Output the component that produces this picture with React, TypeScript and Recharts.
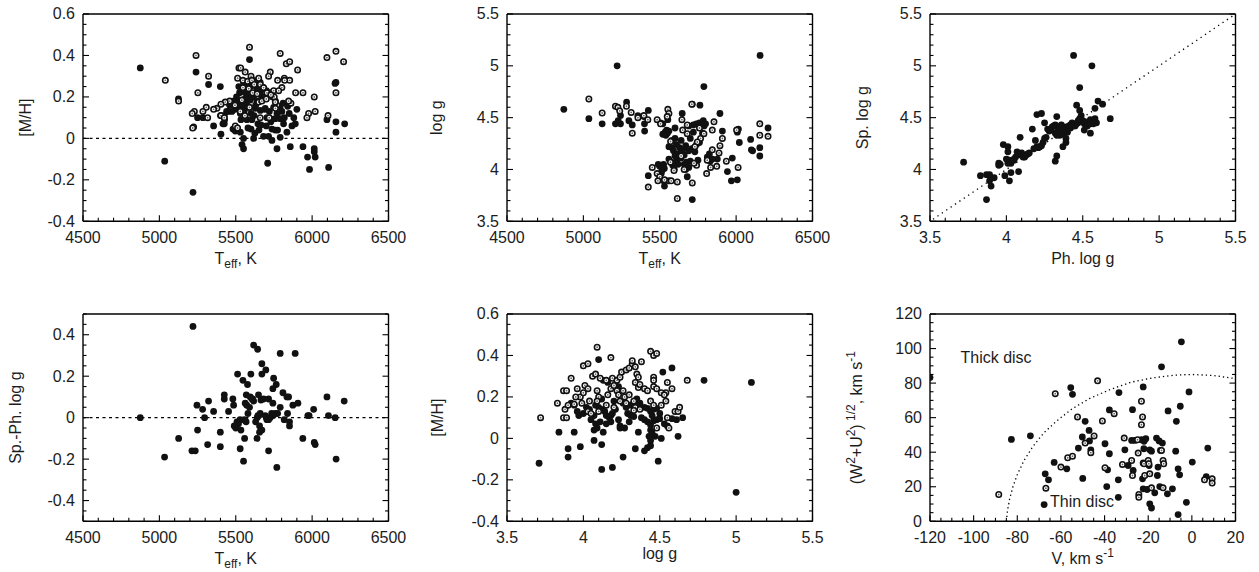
import React from 'react';
import { ScatterChart, Scatter, XAxis, YAxis, ReferenceLine, ReferenceDot } from 'recharts';

type P = [number, number];

// ---------- Panel 1: [M/H] vs Teff ----------
const teffMhFilled: P[] = [
  [4875,0.34],[5035,-0.11],[5125,0.19],[5220,-0.26],[5240,0.32],[5322,0.26],[5399,0.25],[5403,0.02],[5355,0.06],[5425,0.07],[5425,0.11],[5250,0.10],[5285,0.10],[5590,0.38],
  [5551,0.26],[5578,0.26],[5639,0.24],[5661,0.23],[5700,0.23],[5525,0.22],[5562,0.22],[5591,0.21],[5661,0.21],[5682,0.20],[5617,0.20],[5639,0.18],
  [5530,0.18],[5569,0.18],[5595,0.185],[5573,0.16],[5510,0.17],[5545,0.16],[5520,0.15],[5585,0.15],
  [5416,0.07],[5427,0.09],[5453,0.13],[5475,0.13],[5497,0.14],
  [5482,0.045],[5497,0.035],[5530,0.03],[5551,0.0],[5541,-0.03],[5551,-0.05],[5600,0.045],[5652,0.04],[5534,0.09],[5573,0.09],[5606,0.09],
  [5617,0.0],[5682,0.01],[5715,0.01],[5737,-0.01],[5770,-0.05],[5709,-0.12],[5791,0.005],[5835,0.03],[5857,-0.04],[5940,-0.04],[6014,-0.05],[6014,-0.065],[5970,-0.09],[6020,-0.09],[5983,-0.15],[6108,-0.14],
  [5661,0.135],[5693,0.145],[5628,0.145],[5704,0.10],[5726,0.095],[5759,0.095],[5791,0.095],[5737,0.045],[5759,0.04],[5774,0.04],[5813,0.07],[5868,0.06],[5890,0.07],[5900,0.14],[5840,0.155],[5802,0.13],[5818,0.10],
  [5530,0.12],[5556,0.135],[5600,0.12],[5620,0.11],[5645,0.07],[5665,0.065],[5690,0.14],[5720,0.13],[5748,0.15],[5770,0.12],
  [6156,0.27],[6150,0.265],[6097,0.09],[6156,0.08],[6213,0.07],[6156,0.03],
  [5600,0.25],[5640,0.26],[5615,0.28],[5660,0.27],[5680,0.245],[5720,0.22],[5740,0.2],[5760,0.18],[5790,0.15],[5810,0.17],
  [5520,0.25],[5505,0.2],[5480,0.18],[5460,0.16],[5440,0.13],[5400,0.11],[5580,0.05],[5625,0.025],[5700,0.06],[5730,0.08],[5850,0.12],[5880,0.1],[5630,0.16],[5650,0.18],[5600,0.2],[5560,0.19],
];
const teffMhOpen: P[] = [
  [5590,0.44],[5240,0.40],[5791,0.41],[6097,0.39],[6156,0.42],[6206,0.37],[5322,0.30],[5039,0.28],[5126,0.18],[5252,0.22],[5521,0.34],[5532,0.34],[5562,0.32],[5600,0.30],[5650,0.29],[5726,0.32],[5715,0.30],[5831,0.36],[5853,0.37],[5774,0.28],[5818,0.29],[5853,0.28],[5905,0.33],[5892,0.22],[5940,0.22],[6014,0.20],[6156,0.22],[5977,0.12],[6020,0.13],[5966,0.10],[6104,0.11],
  [5512,0.29],[5547,0.28],[5578,0.275],[5606,0.28],[5621,0.26],[5661,0.26],[5682,0.245],[5704,0.22],[5748,0.23],[5752,0.20],[5802,0.245],[5781,0.23],[5547,0.245],
  [5460,0.18],[5431,0.175],[5403,0.165],[5377,0.145],[5355,0.14],[5307,0.15],[5285,0.13],[5229,0.13],[5215,0.12],[5224,0.055],[5218,0.05],[5316,0.10],[5403,0.11],[5425,0.10],[5497,0.06],[5512,0.05],
  [5861,0.17],[5846,0.18],[5770,0.16],[5759,0.175],[5719,0.10],[5650,0.175],[5671,0.18],[5700,0.19],[5590,0.15],[5560,0.11],[5610,0.22],[5640,0.215],[5585,0.24],[5495,0.16],[5530,0.13],[5760,0.145],[5820,0.28],[5660,0.1],[5730,0.21],[5540,0.185],
];

// ---------- Panel 2: log g vs Teff ----------
const teffLoggFilled: P[] = [
  [4872,4.58],[5036,4.49],[5123,4.44],[5221,5.00],[5210,4.44],[5243,4.44],[5228,4.47],[5243,4.52],[5283,4.65],[5298,4.47],[5320,4.43],[5357,4.52],[5396,4.51],[5401,4.37],[5400,4.44],[5425,4.57],[5425,3.94],[5789,4.80],[6157,5.10],
  [5505,4.45],[5520,4.44],[5553,4.48],[5550,4.35],[5535,4.36],[5520,4.34],[5540,4.33],[5560,4.37],[5545,4.38],[5647,4.54],[5713,4.63],[5763,4.62],
  [5690,4.42],[5720,4.43],[5740,4.44],[5760,4.45],[5785,4.47],[5800,4.44],[5790,4.42],[5894,4.54],[5910,4.37],[5877,4.10],
  [5610,4.24],[5630,4.21],[5650,4.19],[5670,4.23],[5690,4.18],[5710,4.20],[5730,4.17],[5740,4.24],[5620,4.15],[5660,4.14],[5600,4.30],[5580,4.21],[5590,4.18],
  [5811,4.12],[5825,4.15],[5845,4.10],[5830,4.08],
  [5660,4.05],[5670,4.00],[5680,3.93],[5675,4.07],[5690,4.02],
  [5560,4.10],[5575,4.07],[5585,4.04],[5600,4.13],[5610,4.08],[5595,4.00],
  [5500,4.03],[5515,3.99],[5525,4.05],[5490,4.05],[5510,3.96],[5530,4.01],
  [5531,3.84],[5713,3.71],[5975,4.11],[5943,3.98],[5969,3.89],[6008,3.90],[6015,4.39],[6008,4.36],[6021,4.26],[6095,4.29],[6100,4.19],[6108,4.18],[6155,4.21],[6155,4.13],[6209,4.40],
  [5600,4.40],[5640,4.28],[5700,4.30],[5720,4.36],[5560,4.22],[5620,4.05],[5640,4.11],[5700,4.08],[5750,4.09],[5780,4.35],[5760,4.26],[5580,4.28],
];
const teffLoggOpen: P[] = [
  [5036,4.68],[5123,4.545],[5210,4.61],[5226,4.60],[5238,4.565],[5282,4.61],[5313,4.55],[5320,4.35],[5357,4.50],[5396,4.52],[5422,4.48],[5425,3.83],[5483,4.48],[5505,4.44],[5553,4.58],[5560,4.54],[5549,4.51],[5571,4.27],[5680,4.345],[5710,4.63],[5855,4.46],[5844,4.38],[5910,4.30],[5894,4.23],[5844,4.19],[5789,4.345],[5767,4.30],[5746,4.265],[5888,4.16],[5811,4.09],[5741,4.04],[5724,4.06],[5833,4.02],[5873,4.03],[5807,3.96],[5570,4.07],[5593,3.99],[5560,3.89],[5615,3.88],[5451,4.02],[5483,3.96],[5500,3.93],[5527,3.89],[5488,3.89],[5531,3.90],[5575,3.89],[5615,3.72],[5713,3.87],[5936,4.08],[6013,4.02],[6003,4.38],[6155,4.44],[6155,4.33],[6209,4.32],[5645,4.48],[5650,4.38],[5760,4.4],[5730,4.22],[5660,4.0],[5640,4.13],[5680,4.43],
];

// ---------- Panel 3: Sp. log g vs Ph. log g ----------
const phSpLogg: P[] = [
  [3.72,4.07],[3.83,3.94],[3.87,3.71],[3.87,3.95],[3.89,3.95],[3.89,3.89],[3.90,3.84],[3.92,3.92],[3.95,4.06],[3.95,4.04],[3.98,4.24],[3.99,3.94],[4.01,4.22],[4.01,4.17],[4.02,4.09],[4.03,4.06],[4.01,4.06],[4.05,4.09],[4.02,3.89],[4.03,3.97],[4.08,3.98],[4.09,4.31],[4.07,4.17],[4.09,4.14],[4.10,4.16],[4.11,4.12],[4.13,4.14],[4.14,4.15],[4.15,4.16],[4.17,4.39],[4.18,4.20],[4.20,4.22],[4.22,4.22],[4.23,4.23],[4.20,4.53],[4.23,4.54],[4.19,4.28],[4.24,4.26],[4.25,4.30],[4.25,4.45],[4.26,4.31],[4.27,4.39],[4.30,4.41],[4.31,4.42],[4.32,4.43],[4.32,4.08],[4.33,4.13],[4.33,4.51],[4.34,4.37],[4.35,4.36],[4.34,4.40],[4.36,4.34],[4.35,4.33],[4.36,4.39],[4.37,4.22],[4.38,4.35],[4.39,4.41],[4.39,4.30],[4.39,4.26],[4.42,4.43],[4.43,4.45],[4.45,4.44],[4.46,4.44],[4.47,4.45],[4.44,5.10],[4.46,4.62],[4.48,4.57],[4.49,4.52],[4.48,4.79],[4.48,4.49],[4.50,4.47],[4.47,4.47],[4.51,4.44],[4.52,4.46],[4.51,4.38],[4.56,5.00],[4.55,4.48],[4.55,4.44],[4.55,4.35],[4.58,4.59],[4.58,4.49],[4.59,4.45],[4.60,4.66],[4.63,4.63],[4.68,4.49],[4.42,4.40],[4.44,4.42],[4.32,4.35],[4.28,4.37],[4.12,4.12],[4.06,4.12],[4.00,4.10],[3.96,4.05],[4.05,4.10],[4.21,4.21],[4.29,4.38],[4.36,4.43],[4.40,4.36],[4.45,4.42],[4.53,4.42],[4.57,4.44],[4.33,4.33],[4.35,4.41],[4.41,4.42],
];

// ---------- Panel 4: Sp.-Ph. log g vs Teff ----------
const teffDiffLogg: P[] = [
  [4875,0.0],[5034,-0.19],[5126,-0.10],[5220,0.44],[5213,-0.16],[5235,-0.16],[5246,0.06],[5250,-0.06],[5283,0.04],[5296,0.0],[5316,-0.13],[5322,0.08],[5355,0.03],[5399,-0.07],[5399,-0.14],[5425,0.11],[5425,0.09],[5453,0.03],[5481,0.09],[5486,0.06],[5490,-0.04],[5500,-0.05],[5508,-0.02],[5518,-0.03],[5528,-0.01],[5512,0.21],[5529,-0.15],[5534,-0.06],[5547,0.18],[5551,-0.21],[5556,-0.01],[5562,-0.015],[5558,-0.10],[5562,0.07],[5569,0.11],[5577,0.16],[5572,0.06],[5580,0.02],[5568,-0.02],[5595,0.10],[5606,0.09],[5617,0.08],[5599,0.21],[5617,0.35],[5639,-0.10],[5640,0.0],[5645,0.01],[5650,0.01],[5660,0.02],[5643,0.33],[5649,0.11],[5656,-0.04],[5656,-0.07],[5665,0.085],[5671,0.21],[5671,0.26],[5671,-0.06],[5682,0.09],[5693,0.01],[5704,-0.01],[5715,-0.01],[5697,0.23],[5715,0.09],[5715,-0.16],[5725,0.0],[5735,0.02],[5745,0.01],[5743,0.07],[5743,0.14],[5748,0.19],[5758,0.02],[5774,0.02],[5765,0.16],[5769,-0.24],[5791,0.05],[5791,0.31],[5809,0.12],[5817,-0.01],[5835,0.10],[5846,0.10],[5839,0.02],[5852,-0.02],[5852,-0.04],[5874,0.06],[5889,0.31],[5907,0.07],[5939,-0.10],[5972,0.01],[5980,0.01],[6010,0.04],[6014,-0.12],[6020,-0.13],[6097,0.10],[6107,0.01],[6151,0.0],[6157,-0.20],[6210,0.08],[5630,-0.02],[5612,0.09],[5590,0.05],[5700,0.0],
];

// ---------- Panel 5: [M/H] vs log g ----------
const loggMhFilled: P[] = [
  [4.10,0.38],[4.52,0.32],[4.58,0.34],[4.79,0.28],[5.10,0.27],[5.00,-0.26],[3.84,0.03],[3.94,0.03],[3.90,-0.05],[3.90,-0.09],[3.98,-0.04],[3.71,-0.12],[4.07,-0.01],[4.12,-0.03],[4.12,-0.15],[4.19,-0.14],[4.26,-0.09],[4.34,-0.05],[4.40,-0.06],[4.42,-0.045],[4.44,-0.035],[4.49,-0.11],[4.47,0.01],[4.51,0.0],[4.62,0.01],[4.65,0.10],[4.36,0.03],[4.44,0.04],[4.45,0.025],[4.43,0.01],[4.44,-0.01],[4.13,0.03],[4.07,0.04],[4.09,0.05],[4.08,0.07],[4.11,0.08],[3.92,0.17],[3.94,0.16],[3.96,0.13],[3.97,0.11],[4.02,0.15],[4.04,0.14],[4.07,0.11],[4.10,0.15],[4.12,0.14],[4.14,0.13],[4.15,0.11],[4.17,0.10],[4.18,0.11],[4.19,0.12],[4.21,0.14],[4.23,0.09],[4.24,0.06],[4.24,0.05],[4.27,0.05],[4.29,0.12],[4.31,0.11],[4.33,0.105],[4.13,0.28],[4.16,0.27],[4.21,0.26],[4.23,0.25],[4.33,0.17],[4.35,0.17],[4.37,0.17],[4.35,0.19],[4.40,0.15],[4.42,0.145],[4.44,0.13],[4.46,0.14],[4.48,0.145],[4.50,0.12],[4.40,0.09],[4.42,0.08],[4.44,0.065],[4.46,0.085],[4.48,0.09],[4.50,0.095],[4.53,0.07],[4.55,0.06],[4.58,0.095],[4.61,0.09],[4.31,0.16],[4.28,0.15],[4.26,0.17],[4.20,0.18],[4.18,0.08],[4.15,0.07],[4.05,0.09],[4.00,0.12],[4.38,0.10],[4.30,0.08],[4.45,0.11],[4.12,0.19],[4.08,0.16],
];
const loggMhOpen: P[] = [
  [4.09,0.44],[4.18,0.39],[4.44,0.42],[4.46,0.40],[4.48,0.41],[4.00,0.35],[4.03,0.36],[3.92,0.29],[4.06,0.30],[4.08,0.31],[4.11,0.29],[4.15,0.28],[4.19,0.29],[4.22,0.28],[4.24,0.295],[4.25,0.32],[4.28,0.33],[4.30,0.34],[4.32,0.36],[4.34,0.345],[4.38,0.37],[4.32,0.375],[4.35,0.31],[4.36,0.295],[4.34,0.27],[4.36,0.245],[4.46,0.295],[4.46,0.28],[4.55,0.27],[4.58,0.24],[4.54,0.22],[4.68,0.28],[3.87,0.23],[3.89,0.23],[3.83,0.17],[3.72,0.10],[3.87,0.10],[3.89,0.10],[3.88,0.14],[3.90,0.16],[3.94,0.165],[3.96,0.24],[3.98,0.20],[4.01,0.255],[4.03,0.24],[4.00,0.22],[4.04,0.18],[4.03,0.13],[4.05,0.12],[4.09,0.23],[4.10,0.20],[4.09,0.18],[4.16,0.21],[4.18,0.24],[4.20,0.255],[4.22,0.23],[4.23,0.21],[4.24,0.18],[4.26,0.23],[4.27,0.20],[4.28,0.17],[4.33,0.18],[4.37,0.26],[4.40,0.24],[4.42,0.23],[4.46,0.25],[4.48,0.24],[4.51,0.22],[4.53,0.21],[4.51,0.16],[4.54,0.18],[4.60,0.13],[4.62,0.13],[4.63,0.15],[4.55,0.10],[4.56,0.05],[4.48,0.05],[4.34,0.15],[4.37,0.14],[4.33,0.135],[4.44,0.18],[4.46,0.16],[4.10,0.13],[4.15,0.16],[4.20,0.15],[4.30,0.21],[3.95,0.20],[3.99,0.17],
];

// ---------- Panel 6: Toomre diagram ----------
const toomreFilled: P[] = [
  [-120,83.2],[-82.7,47.4],[-74.0,49.5],[-67.7,9.7],[-67.2,27.5],[-65.7,24.0],[-63.1,34.1],[-57.3,30.4],[-55.5,77.4],[-54.7,73.5],[-52.0,42.4],[-50.0,24.8],[-50.2,48.8],[-48.9,57.9],[-47.1,52.6],[-46.9,46.5],[-46.3,41.4],[-39.8,44.9],[-38.6,29.8],[-39.0,20.1],[-37.8,64.5],[-37.8,39.1],[-33.7,24.0],[-33.7,13.9],[-33.4,74.5],[-30.7,41.4],[-29.2,32.3],[-27.6,46.8],[-27.2,64.6],[-26.9,29.4],[-26.1,46.8],[-23.1,47.2],[-22.6,24.6],[-22.3,18.8],[-22.3,77.8],[-22.0,42.0],[-21.9,46.3],[-21.1,47.8],[-20.5,18.4],[-19.6,32.3],[-19.3,41.4],[-19.3,10.1],[-18.5,7.7],[-18.5,40.6],[-17.0,16.5],[-16.2,48.2],[-15.8,26.5],[-15.5,31.4],[-15.0,46.5],[-14.7,20.1],[-14.4,41.0],[-13.9,89.4],[-13.5,45.3],[-11.2,15.9],[-10.9,63.9],[-8.9,18.8],[-7.4,40.6],[-7.1,57.9],[-6.3,3.9],[-6.3,30.4],[-5.6,26.9],[-5.3,66.6],[-4.8,103.9],[-2.5,11.0],[-1.3,74.9],[0.2,34.3],[6.6,25.9],[7.3,42.4],
];
const toomreOpen: P[] = [
  [-88.5,15.5],[-66.9,19.2],[-62.6,73.9],[-60.0,31.4],[-56.9,36.8],[-54.7,37.7],[-52.4,60.4],[-48.9,45.3],[-46.3,39.7],[-44.8,49.4],[-43.2,81.3],[-41.0,58.1],[-39.8,31.0],[-35.6,62.3],[-31.8,32.9],[-31.0,48.2],[-27.6,35.2],[-27.2,26.5],[-24.9,47.2],[-24.6,39.5],[-24.3,15.5],[-24.3,13.9],[-23.1,69.5],[-23.1,55.9],[-22.6,60.4],[-22.3,33.7],[-21.9,33.3],[-21.6,26.5],[-20.0,35.2],[-19.7,33.3],[-19.3,27.5],[-18.5,19.4],[-13.9,41.0],[-13.2,35.2],[-12.9,33.3],[-13.2,19.4],[5.8,24.0],[9.3,24.6],[9.3,22.1],
];
// dotted thin/thick disc boundary
const toomreBoundary: P[] = [
  [-85,0],[-84.5,6],[-83.5,13],[-82,20],[-80,27],[-77,35],[-73,43],[-68,51],[-62,58],[-55,65],[-47,71],[-38,76],[-28,80.5],[-18,83],[-8,84.6],[0,85],[10,84.4],[20,82.6],
];

// ---------- tick labels ----------
const teffTicks = [4500, 5000, 5500, 6000, 6500];
const teffLabels = ['4500', '5000', '5500', '6000', '6500'];
const mhTicks = [-0.4, -0.2, 0, 0.2, 0.4, 0.6];
const mhLabels = ['-0.4', '-0.2', '0', '0.2', '0.4', '0.6'];
const loggTicks = [3.5, 4, 4.5, 5, 5.5];
const loggLabels = ['3.5', '4', '4.5', '5', '5.5'];
const diffTicks = [-0.4, -0.2, 0, 0.2, 0.4];
const diffLabels = ['-0.4', '-0.2', '0', '0.2', '0.4'];
const vTicks = [-120, -100, -80, -60, -40, -20, 0, 20];
const vLabels = ['-120', '-100', '-80', '-60', '-40', '-20', '0', '20'];
const qTicks = [0, 20, 40, 60, 80, 100, 120];
const qLabels = ['0', '20', '40', '60', '80', '100', '120'];

// ---------- styling / layout ----------
const FONT = '"Liberation Sans", Arial, Helvetica, sans-serif';
const TXT = '#1c1c1c';
const FS = 16;
const PW = 305.5;
const PH = 207.3;
const PL = 100; // plot left inside chart
const PT = 10; // plot top inside chart
const CW = PL + PW + 20;
const CH = PT + PH + 55;
const MAJ = 6;
const MIN = 3.5;

const toXY = (a: P[]) => a.map(([x, y]) => ({ x, y }));

function withMinors(a: number, b: number, step: number, majors: number[]) {
  const out: number[] = [];
  const n = Math.round((b - a) / step);
  for (let i = 0; i <= n; i++) out.push(Math.round((a + i * step) * 1e6) / 1e6);
  majors.forEach((m) => {
    if (!out.some((v) => Math.abs(v - m) < 1e-7)) out.push(m);
  });
  return out.sort((p, q) => p - q);
}

type Side = 'bottom' | 'top' | 'left' | 'right';

function makeTick(side: Side, majors: number[], labels?: string[]) {
  return (props: any) => {
    const { x, y, payload } = props;
    const v = Number(payload.value);
    const idx = majors.findIndex((m) => Math.abs(m - v) < 1e-7);
    const L = idx >= 0 ? MAJ : MIN;
    let x2 = x;
    let y2 = y;
    if (side === 'bottom') y2 = y - L;
    if (side === 'top') y2 = y + L;
    if (side === 'left') x2 = x + L;
    if (side === 'right') x2 = x - L;
    return (
      <g>
        <line x1={x} y1={y} x2={x2} y2={y2} stroke="#000" strokeWidth={1.1} />
        {labels && idx >= 0 && side === 'bottom' && (
          <text x={x} y={y + 22} textAnchor="middle" fontSize={FS} fontFamily={FONT} fill={TXT}>
            {labels[idx]}
          </text>
        )}
        {labels && idx >= 0 && side === 'left' && (
          <text x={x - 8} y={y + 5.5} textAnchor="end" fontSize={FS} fontFamily={FONT} fill={TXT}>
            {labels[idx]}
          </text>
        )}
      </g>
    );
  };
}

const FilledDot = (p: any) => <circle cx={p.cx} cy={p.cy} r={3.4} fill="#111" />;
const OpenDot = (p: any) => (
  <g>
    <circle cx={p.cx} cy={p.cy} r={2.7} fill="#fff" stroke="#111" strokeWidth={1.6} />
    <circle cx={p.cx} cy={p.cy} r={0.9} fill="#666" />
  </g>
);
const NoDot = () => <g />;

interface AxisSpec {
  domain: [number, number];
  majors: number[];
  labels: string[];
  minor: number;
}

interface PanelProps {
  left: number;
  top: number;
  xs: AxisSpec;
  ys: AxisSpec;
  xTitle: React.ReactNode;
  yTitle: React.ReactNode;
  xTitleDy?: number;
  yTitleDx: number;
  children?: React.ReactNode;
}

function Panel({ left, top, xs, ys, xTitle, yTitle, xTitleDy = 43, yTitleDx, children }: PanelProps) {
  const xt = withMinors(xs.domain[0], xs.domain[1], xs.minor, xs.majors);
  const yt = withMinors(ys.domain[0], ys.domain[1], ys.minor, ys.majors);
  const axisLine = { stroke: '#000', strokeWidth: 1.4 };
  const xLabel = {
    content: () => (
      <text x={PL + PW / 2} y={PT + PH + xTitleDy} textAnchor="middle" fontSize={FS} fontFamily={FONT} fill={TXT}>
        {xTitle}
      </text>
    ),
  };
  const yx = PL - yTitleDx;
  const yy = PT + PH / 2;
  const yLabel = {
    content: () => (
      <text
        x={yx}
        y={yy}
        transform={`rotate(-90 ${yx} ${yy})`}
        textAnchor="middle"
        fontSize={FS}
        fontFamily={FONT}
        fill={TXT}
      >
        {yTitle}
      </text>
    ),
  };
  return (
    <div style={{ position: 'absolute', left: left - PL, top: top - PT, width: CW, height: CH }}>
      <ScatterChart width={CW} height={CH} margin={{ top: PT - 1, right: 19, bottom: 0, left: 0 }}>
        <XAxis
          xAxisId={0}
          dataKey="x"
          type="number"
          domain={xs.domain}
          allowDataOverflow
          ticks={xt}
          interval={0}
          height={55}
          tickSize={0}
          tickMargin={0}
          tickLine={false}
          axisLine={axisLine}
          tick={makeTick('bottom', xs.majors, xs.labels)}
          label={xLabel}
        />
        <XAxis
          xAxisId="top"
          orientation="top"
          type="number"
          domain={xs.domain}
          allowDataOverflow
          ticks={xt}
          interval={0}
          height={1}
          tickSize={0}
          tickMargin={0}
          tickLine={false}
          axisLine={axisLine}
          tick={makeTick('top', xs.majors)}
        />
        <YAxis
          yAxisId={0}
          dataKey="y"
          type="number"
          domain={ys.domain}
          allowDataOverflow
          ticks={yt}
          interval={0}
          width={PL}
          tickSize={0}
          tickMargin={0}
          tickLine={false}
          axisLine={axisLine}
          tick={makeTick('left', ys.majors, ys.labels)}
          label={yLabel}
        />
        <YAxis
          yAxisId="right"
          orientation="right"
          type="number"
          domain={ys.domain}
          allowDataOverflow
          ticks={yt}
          interval={0}
          width={1}
          tickSize={0}
          tickMargin={0}
          tickLine={false}
          axisLine={axisLine}
          tick={makeTick('right', ys.majors)}
        />
        {children}
      </ScatterChart>
    </div>
  );
}

const teffAxis: AxisSpec = { domain: [4500, 6500], majors: teffTicks, labels: teffLabels, minor: 100 };
const mhAxis: AxisSpec = { domain: [-0.4, 0.6], majors: mhTicks, labels: mhLabels, minor: 0.05 };
const loggAxis: AxisSpec = { domain: [3.5, 5.5], majors: loggTicks, labels: loggLabels, minor: 0.1 };
const diffAxis: AxisSpec = { domain: [-0.5, 0.5], majors: diffTicks, labels: diffLabels, minor: 0.05 };
const vAxis: AxisSpec = { domain: [-120, 20], majors: vTicks, labels: vLabels, minor: 5 };
const qAxis: AxisSpec = { domain: [0, 120], majors: qTicks, labels: qLabels, minor: 5 };

const TeffTitle = (
  <>
    T<tspan fontSize={12} dy={4}>eff</tspan>
    <tspan dy={-4}>, K</tspan>
  </>
);
const VTitle = (
  <>
    V, km s<tspan fontSize={12} dy={-7}>-1</tspan>
  </>
);
const QTitle = (
  <>
    (W<tspan fontSize={12} dy={-7}>2</tspan>
    <tspan dy={7}>+U</tspan>
    <tspan fontSize={12} dy={-7}>2</tspan>
    <tspan dy={7}>)</tspan>
    <tspan fontSize={12} dy={-7}> 1/2</tspan>
    <tspan dy={7}>, km s</tspan>
    <tspan fontSize={12} dy={-7}>-1</tspan>
  </>
);

const dashed = { stroke: '#000', strokeWidth: 1.2, strokeDasharray: '3 3.5' };

export default function App() {
  return (
    <div
      style={{
        position: 'absolute',
        left: 0,
        top: 0,
        width: 1259,
        height: 572,
        background: '#fff',
        overflow: 'hidden',
        fontFamily: FONT,
      }}
    >
      {/* Panel 1 */}
      <Panel left={83} top={13.5} xs={teffAxis} ys={mhAxis} xTitle={TeffTitle} yTitle="[M/H]" yTitleDx={52}>
        <ReferenceLine y={0} {...dashed} />
        <Scatter data={toXY(teffMhFilled)} shape={FilledDot} isAnimationActive={false} />
        <Scatter data={toXY(teffMhOpen)} shape={OpenDot} isAnimationActive={false} />
      </Panel>

      {/* Panel 2 */}
      <Panel left={507} top={13.5} xs={teffAxis} ys={loggAxis} xTitle={TeffTitle} yTitle="log g" yTitleDx={65}>
        <Scatter data={toXY(teffLoggFilled)} shape={FilledDot} isAnimationActive={false} />
        <Scatter data={toXY(teffLoggOpen)} shape={OpenDot} isAnimationActive={false} />
      </Panel>

      {/* Panel 3 */}
      <Panel left={930} top={13.5} xs={loggAxis} ys={loggAxis} xTitle="Ph. log g" yTitle="Sp. log g" yTitleDx={62}>
        <ReferenceLine
          segment={[
            { x: 3.52, y: 3.52 },
            { x: 5.5, y: 5.5 },
          ]}
          stroke="#000"
          strokeWidth={1.3}
          strokeDasharray="1.3 4"
        />
        <Scatter data={toXY(phSpLogg)} shape={FilledDot} isAnimationActive={false} />
      </Panel>

      {/* Panel 4 */}
      <Panel left={83} top={313.5} xs={teffAxis} ys={diffAxis} xTitle={TeffTitle} yTitle="Sp.-Ph. log g" yTitleDx={62}>
        <ReferenceLine y={0} {...dashed} />
        <Scatter data={toXY(teffDiffLogg)} shape={FilledDot} isAnimationActive={false} />
      </Panel>

      {/* Panel 5 */}
      <Panel left={507} top={313.5} xs={loggAxis} ys={mhAxis} xTitle="log g" xTitleDy={38} yTitle="[M/H]" yTitleDx={64}>
        <Scatter data={toXY(loggMhFilled)} shape={FilledDot} isAnimationActive={false} />
        <Scatter data={toXY(loggMhOpen)} shape={OpenDot} isAnimationActive={false} />
      </Panel>

      {/* Panel 6 */}
      <Panel left={930} top={313.5} xs={vAxis} ys={qAxis} xTitle={VTitle} yTitle={QTitle} yTitleDx={68}>
        <Scatter
          data={toXY(toomreBoundary)}
          shape={NoDot}
          line={{ stroke: '#000', strokeWidth: 1.3, strokeDasharray: '1.3 3' }}
          lineType="joint"
          isAnimationActive={false}
        />
        <Scatter data={toXY(toomreFilled)} shape={FilledDot} isAnimationActive={false} />
        <Scatter data={toXY(toomreOpen)} shape={OpenDot} isAnimationActive={false} />
        <ReferenceDot
          x={-106}
          y={95}
          r={0}
          fill="none"
          stroke="none"
          label={{ value: 'Thick disc', position: 'right', offset: 0, fontSize: FS, fill: TXT, fontFamily: FONT }}
        />
        <ReferenceDot
          x={-65}
          y={11.6}
          r={0}
          fill="none"
          stroke="none"
          label={{ value: 'Thin disc', position: 'right', offset: 0, fontSize: FS, fill: TXT, fontFamily: FONT }}
        />
      </Panel>
    </div>
  );
}
